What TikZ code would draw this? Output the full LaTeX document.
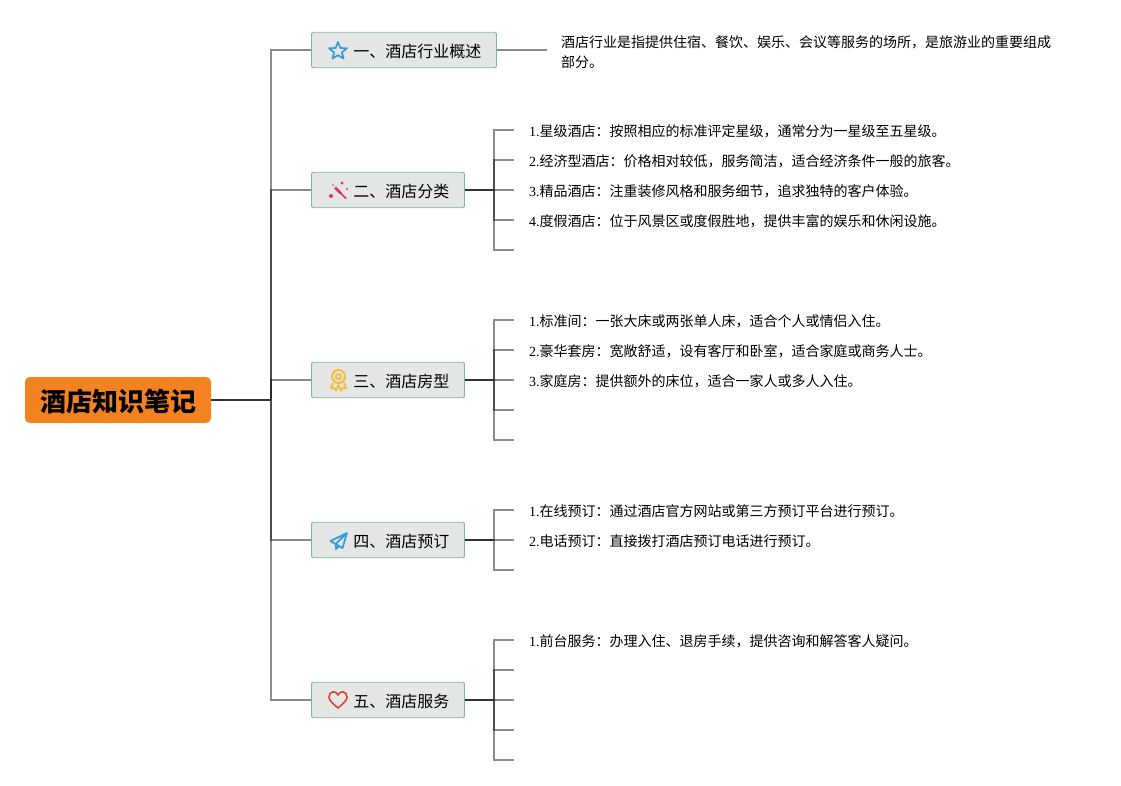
\documentclass[tikz,border=0pt]{standalone}
\usepackage{fontspec}
\setmainfont{Liberation Serif}
\newfontfamily\cjk{Noto Sans CJK SC}
\definecolor{rootfill}{HTML}{F58220}
\definecolor{boxfill}{HTML}{E4E7E5}
\definecolor{boxline}{HTML}{7FB5A3}
\definecolor{iconblue}{HTML}{3A9BD9}
\definecolor{iconpink}{HTML}{E8316A}
\definecolor{icongold}{HTML}{F5BD3C}
\definecolor{iconred}{HTML}{D9432F}
\tikzset{
  rootbox/.style={rectangle, rounded corners=5pt, fill=rootfill, minimum width=186pt, minimum height=46pt, inner sep=0pt, font=\cjk\fontsize{26}{30}\selectfont\bfseries},
  branch/.style={rectangle, rounded corners=1.5pt, draw=boxline, fill=boxfill, line width=0.9pt, minimum height=35.5pt, inner xsep=15pt, inner ysep=0pt, anchor=west, font=\cjk\fontsize{16}{20}\selectfont},
  detail/.style={anchor=west, inner sep=0pt, font=\fontsize{14}{20}\selectfont},
  thick link/.style={draw=black!80, line width=1.4pt},
  thin link/.style={draw=black, draw opacity=0.45, line width=1.2pt}
}
\newcommand{\brtext}[1]{\hspace*{27pt}\raisebox{0pt}[14pt][0pt]{#1}}
\begin{document}
\begin{tikzpicture}[x=1pt, y=-1pt]
    \useasboundingbox (0,0) rectangle (1121,785);

    % root and hub
    \node[rootbox] (root) at (118, 400) {\raisebox{0pt}[23pt][0pt]{酒店知识笔记}};
    \coordinate (hub) at (271, 400);

    % branches
    \node[branch] (b1) at (311, 50) {\brtext{一、酒店行业概述}};
    \node[branch] (b2) at (311, 190) {\brtext{二、酒店分类}};
    \node[branch] (b3) at (311, 380) {\brtext{三、酒店房型}};
    \node[branch] (b4) at (311, 540) {\brtext{四、酒店预订}};
    \node[branch] (b5) at (311, 700) {\brtext{五、酒店服务}};

    \draw[thin link] (hub) |- (b1.west);
    \draw[thin link] (hub) |- (b2.west);
    \draw[thin link] (hub) |- (b3.west);
    \draw[thin link] (hub) |- (b4.west);
    \draw[thin link] (hub) |- (b5.west);
    \draw[thick link] (root.east) -- (hub);

    % icons
    \draw[iconblue, line width=1.7pt, line join=round] (338,42) -- (340.4,48) -- (347,48.3) -- (341.9,52.4) -- (343.6,58.6) -- (338,55.2) -- (332.4,58.6) -- (334.1,52.4) -- (329,48.3) -- (335.6,48) -- cycle;
    \draw[iconpink, line width=2.8pt] (335,187.5) -- (341,193.5);
    \draw[iconpink, line width=1.5pt] (341,193.5) -- (346,198.5);
    \fill[iconpink] (342,183) circle (1.6pt) (331,196) circle (2pt) (347,189) circle (1.2pt) (333,185) circle (0.8pt);
    \draw[icongold, line width=2pt] (338.5,376.5) circle (6.5pt) (338.5,376.5) circle (2.5pt);
    \draw[icongold, line width=2pt, line join=round] (333,383) -- (331,388) -- (334.5,388) -- (336,390.5) -- (338.5,385) -- (341,390.5) -- (342.5,388) -- (346,388) -- (344,383);
    \draw[iconblue, line width=1.8pt, line join=round] (347,533) -- (330.5,541) -- (335.5,544) -- (347,533) -- (342.5,548) -- (335.5,544) -- (336,549) -- (338.5,546.5);
    \draw[iconred, line width=1.6pt, line join=round] (338,708) .. controls (332,703) and (329,700) .. (329,697) .. controls (329,691) and (336,690) .. (338,695) .. controls (340,690) and (347,691) .. (347,697) .. controls (347,700) and (344,703) .. (338,708) -- cycle;

    % branch 1
    \node[detail, text width=500pt, align=left] (t11) at (561, 52) {\cjk 酒店行业是指提供住宿、餐饮、娱乐、会议等服务的场所，是旅游业的重要组成\\部分。};
    \coordinate (e11) at (547, 50);
    \draw[thin link] (b1.east) -- (e11);

    % branch 2
    \coordinate (h2) at (494, 190);
    \coordinate (s21) at (514, 130);
    \coordinate (s22) at (514, 160);
    \coordinate (s23) at (514, 190);
    \coordinate (s24) at (514, 220);
    \coordinate (s25) at (514, 250);
    \draw[thin link] (h2) |- (s21);
    \draw[thin link] (h2) |- (s22);
    \draw[thin link] (h2) -- (s23);
    \draw[thin link] (h2) |- (s24);
    \draw[thin link] (h2) |- (s25);
    \draw[thick link] (b2.east) -- (h2);
    \node[detail] (t21) at (529, 131) {1.{\cjk 星级酒店：按照相应的标准评定星级，通常分为一星级至五星级。}};
    \node[detail] (t22) at (529, 161) {2.{\cjk 经济型酒店：价格相对较低，服务简洁，适合经济条件一般的旅客。}};
    \node[detail] (t23) at (529, 191) {3.{\cjk 精品酒店：注重装修风格和服务细节，追求独特的客户体验。}};
    \node[detail] (t24) at (529, 221) {4.{\cjk 度假酒店：位于风景区或度假胜地，提供丰富的娱乐和休闲设施。}};

    % branch 3
    \coordinate (h3) at (494, 380);
    \coordinate (s31) at (514, 320);
    \coordinate (s32) at (514, 350);
    \coordinate (s33) at (514, 380);
    \coordinate (s34) at (514, 410);
    \coordinate (s35) at (514, 440);
    \draw[thin link] (h3) |- (s31);
    \draw[thin link] (h3) |- (s32);
    \draw[thin link] (h3) -- (s33);
    \draw[thin link] (h3) |- (s34);
    \draw[thin link] (h3) |- (s35);
    \draw[thick link] (b3.east) -- (h3);
    \node[detail] (t31) at (529, 321) {1.{\cjk 标准间：一张大床或两张单人床，适合个人或情侣入住。}};
    \node[detail] (t32) at (529, 351) {2.{\cjk 豪华套房：宽敞舒适，设有客厅和卧室，适合家庭或商务人士。}};
    \node[detail] (t33) at (529, 381) {3.{\cjk 家庭房：提供额外的床位，适合一家人或多人入住。}};

    % branch 4
    \coordinate (h4) at (494, 540);
    \coordinate (s41) at (514, 510);
    \coordinate (s42) at (514, 540);
    \coordinate (s43) at (514, 570);
    \draw[thin link] (h4) |- (s41);
    \draw[thin link] (h4) -- (s42);
    \draw[thin link] (h4) |- (s43);
    \draw[thick link] (b4.east) -- (h4);
    \node[detail] (t41) at (529, 511) {1.{\cjk 在线预订：通过酒店官方网站或第三方预订平台进行预订。}};
    \node[detail] (t42) at (529, 541) {2.{\cjk 电话预订：直接拨打酒店预订电话进行预订。}};

    % branch 5
    \coordinate (h5) at (494, 700);
    \coordinate (s51) at (514, 640);
    \coordinate (s52) at (514, 670);
    \coordinate (s53) at (514, 700);
    \coordinate (s54) at (514, 730);
    \coordinate (s55) at (514, 760);
    \draw[thin link] (h5) |- (s51);
    \draw[thin link] (h5) |- (s52);
    \draw[thin link] (h5) -- (s53);
    \draw[thin link] (h5) |- (s54);
    \draw[thin link] (h5) |- (s55);
    \draw[thick link] (b5.east) -- (h5);
    \node[detail] (t51) at (529, 641) {1.{\cjk 前台服务：办理入住、退房手续，提供咨询和解答客人疑问。}};
\end{tikzpicture}
\end{document}
